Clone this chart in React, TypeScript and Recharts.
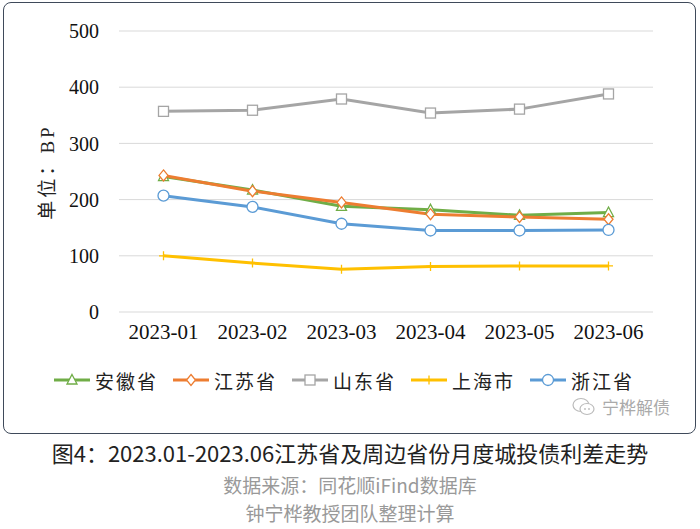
import { LineChart, Line, XAxis, YAxis, CartesianGrid } from "recharts";

const months = ["2023-01", "2023-02", "2023-03", "2023-04", "2023-05", "2023-06"];
const anhui = [241, 217, 188, 182, 172, 177];
const jiangsu = [243, 215, 195, 174, 169, 165];
const shandong = [357, 359, 379, 354, 361, 388];
const shanghai = [100, 87, 76, 81, 82, 82];
const zhejiang = [207, 187, 157, 145, 145, 146];
const yTicks = [0, 100, 200, 300, 400, 500];

const series = [
    { key: "anhui", name: "安徽省", color: "#70ad47", shape: "triangle", values: anhui },
    { key: "jiangsu", name: "江苏省", color: "#ed7d31", shape: "diamond", values: jiangsu },
    { key: "shandong", name: "山东省", color: "#a5a5a5", shape: "square", values: shandong },
    { key: "shanghai", name: "上海市", color: "#ffc000", shape: "plus", values: shanghai },
    { key: "zhejiang", name: "浙江省", color: "#5b9bd5", shape: "circle", values: zhejiang },
];

const data = months.map((m, i) => {
    const row: any = { month: m };
    series.forEach(s => { row[s.key] = s.values[i]; });
    return row;
});

function Marker({ cx, cy, shape, color }: { cx: number; cy: number; shape: string; color: string }) {
    if (cx == null || cy == null) return null;
    switch (shape) {
        case "triangle":
            return <path d={`M${cx},${cy - 5.5} L${cx + 5},${cy + 4} L${cx - 5},${cy + 4} Z`} fill="#fff" stroke={color} strokeWidth={1.3} />;
        case "diamond":
            return <path d={`M${cx},${cy - 5.5} L${cx + 4.5},${cy} L${cx},${cy + 5.5} L${cx - 4.5},${cy} Z`} fill="#fff" stroke={color} strokeWidth={1.3} />;
        case "square":
            return <rect x={cx - 5} y={cy - 5} width={10} height={10} fill="#fff" stroke={color} strokeWidth={1.3} />;
        case "plus":
            return <path d={`M${cx - 4.5},${cy} L${cx + 4.5},${cy} M${cx},${cy - 4.5} L${cx},${cy + 4.5}`} stroke={color} strokeWidth={1.3} fill="none" />;
        default:
            return <circle cx={cx} cy={cy} r={5.5} fill="#fff" stroke={color} strokeWidth={1.3} />;
    }
}

const serif = "'Liberation Serif', 'Times New Roman', serif";
const cjk = "'Noto Sans CJK SC', 'Noto Sans', sans-serif";

export default function App() {
    return (
        <div style={{ position: "absolute", left: 0, top: 0, width: 700, height: 529, background: "#fff", fontFamily: cjk }}>
            <div style={{ position: "absolute", left: 3, top: 2, width: 691, height: 430, border: "1.6px solid #3f4a5a", borderRadius: 8 }} />
            <div style={{ position: "absolute", left: 0, top: 0, fontFamily: serif }}>
                <LineChart width={700} height={360} data={data} margin={{ top: 31, right: 47, left: 0, bottom: 0 }}>
                    <CartesianGrid vertical={false} stroke="#d9d9d9" strokeWidth={1} />
                    <XAxis
                        dataKey="month"
                        axisLine={false}
                        tickLine={false}
                        tickSize={0}
                        tickMargin={12}
                        height={48}
                        padding={{ left: 44.5, right: 44.5 }}
                        tick={{ fontSize: 21, fill: "#111" }}
                        interval={0}
                    />
                    <YAxis
                        domain={[0, 500]}
                        ticks={yTicks}
                        axisLine={false}
                        tickLine={false}
                        tickSize={0}
                        tickMargin={20}
                        width={119}
                        tick={{ fontSize: 20, fill: "#111" }}
                    />
                    {series.map(s => (
                        <Line
                            key={s.key}
                            dataKey={s.key}
                            name={s.name}
                            stroke={s.color}
                            strokeWidth={3}
                            isAnimationActive={false}
                            dot={(p: any) => <Marker key={`${s.key}-${p.index}`} cx={p.cx} cy={p.cy} shape={s.shape} color={s.color} />}
                            activeDot={false}
                        />
                    ))}
                </LineChart>
            </div>
            <div style={{ position: "absolute", left: 45, top: 172, transform: "translate(-50%, -50%) rotate(-90deg)", whiteSpace: "nowrap", fontSize: 19, color: "#222", letterSpacing: 3 }}>
                单位：<span style={{ fontFamily: serif }}>BP</span>
            </div>
            <div style={{ position: "absolute", left: 54, top: 367, display: "flex", gap: 15 }}>
                {series.map(s => (
                    <div key={s.key} style={{ display: "flex", alignItems: "center", height: 26 }}>
                        <svg width={36} height={14}>
                            <line x1={0} y1={7} x2={36} y2={7} stroke={s.color} strokeWidth={3} />
                            <Marker cx={18} cy={7} shape={s.shape} color={s.color} />
                        </svg>
                        <span style={{ marginLeft: 5, fontSize: 19, color: "#222", letterSpacing: 2 }}>{s.name}</span>
                    </div>
                ))}
            </div>
            <div style={{ position: "absolute", left: 572, top: 394, display: "flex", alignItems: "center", color: "#aaa", fontSize: 17 }}>
                <svg width={24} height={22} style={{ marginRight: 6 }}>
                    <ellipse cx={9} cy={9} rx={8} ry={6.5} fill="#fff" stroke="#bbb" strokeWidth={1.2} />
                    <ellipse cx={15} cy={13} rx={7} ry={5.5} fill="#fff" stroke="#bbb" strokeWidth={1.2} />
                    <circle cx={13} cy={13} r={0.9} fill="#bbb" />
                    <circle cx={17} cy={13} r={0.9} fill="#bbb" />
                </svg>
                宁桦解债
            </div>
            <div style={{ position: "absolute", left: 0, width: 700, top: 436, textAlign: "center", fontSize: 22, color: "#222" }}>
                图4：2023.01-2023.06江苏省及周边省份月度城投债利差走势
            </div>
            <div style={{ position: "absolute", left: 0, width: 700, top: 471, textAlign: "center", fontSize: 19, color: "#999" }}>
                数据来源：同花顺iFind数据库
            </div>
            <div style={{ position: "absolute", left: 0, width: 700, top: 499, textAlign: "center", fontSize: 19, color: "#999" }}>
                钟宁桦教授团队整理计算
            </div>
        </div>
    );
}
